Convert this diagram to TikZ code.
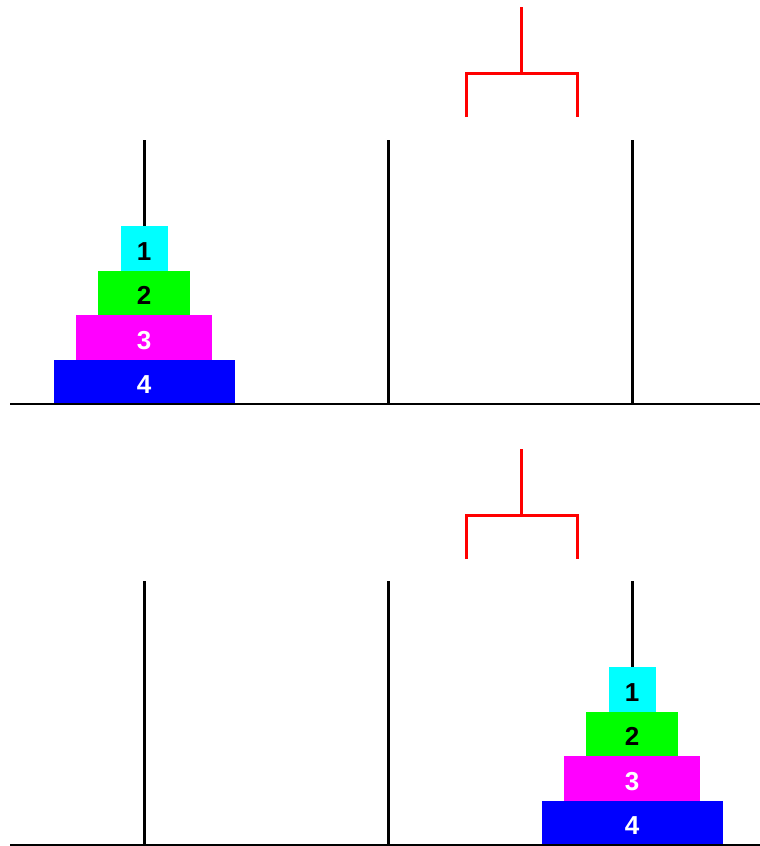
\documentclass[tikz,border=0pt]{standalone}
\usepackage{fontspec}
\setmainfont{Liberation Sans}
\usepackage{xcolor}
\usepackage{tikz}
\usetikzlibrary{positioning}
\definecolor{diskcyan}{RGB}{0,255,255}
\definecolor{diskgreen}{RGB}{0,255,0}
\definecolor{diskmagenta}{RGB}{255,0,255}
\definecolor{diskblue}{RGB}{0,0,255}
\definecolor{clawred}{RGB}{255,0,0}

\begin{document}
\begin{tikzpicture}[x=1pt, y=-1pt,
        disk/.style={rectangle, inner sep=0pt, outer sep=0pt, minimum height=44.5pt, anchor=south,
            text height=24pt, text depth=0pt, font=\fontsize{26}{30}\selectfont\bfseries},
        peg/.style={line width=3pt},
        base/.style={line width=2pt},
        claw/.style={clawred, line width=3pt}]

        \useasboundingbox (0,0) rectangle (760,846);

        % Panel superior: todos los discos en la primera varilla
        \coordinate (pegA) at (144,404);
        \coordinate (pegB) at (388,404);
        \coordinate (pegC) at (632,404);
        \draw[peg] (pegA) -- ++(0,-264);
        \draw[peg] (pegB) -- ++(0,-264);
        \draw[peg] (pegC) -- ++(0,-264);

        \node[disk, fill=diskblue, text=white, minimum width=181pt] (topd4) at (pegA) {4};
        \node[disk, fill=diskmagenta, text=white, minimum width=136pt, above=0pt of topd4] (topd3) {3};
        \node[disk, fill=diskgreen, minimum width=92pt, above=0pt of topd3] (topd2) {2};
        \node[disk, fill=diskcyan, minimum width=47pt, above=0pt of topd2] (topd1) {1};

        \coordinate (baseL) at (10,404);
        \coordinate (baseR) at (760,404);
        \draw[base] (baseL) -- (baseR);

        % Pinza roja
        \coordinate (clawTop) at (521,7);
        \coordinate (clawMid) at (521,73);
        \draw[claw] (clawTop) -- (clawMid);
        \draw[claw] (466,117) -- (466,73) -- (577,73) -- (577,117);

        % Panel inferior: todos los discos en la tercera varilla
        \coordinate (pegA2) at (144,845);
        \coordinate (pegB2) at (388,845);
        \coordinate (pegC2) at (632,845);
        \draw[peg] (pegA2) -- ++(0,-264);
        \draw[peg] (pegB2) -- ++(0,-264);
        \draw[peg] (pegC2) -- ++(0,-264);

        \node[disk, fill=diskblue, text=white, minimum width=181pt] (botd4) at (pegC2) {4};
        \node[disk, fill=diskmagenta, text=white, minimum width=136pt, above=0pt of botd4] (botd3) {3};
        \node[disk, fill=diskgreen, minimum width=92pt, above=0pt of botd3] (botd2) {2};
        \node[disk, fill=diskcyan, minimum width=47pt, above=0pt of botd2] (botd1) {1};

        \coordinate (baseL2) at (10,845);
        \coordinate (baseR2) at (760,845);
        \draw[base] (baseL2) -- (baseR2);

        % Pinza roja
        \coordinate (clawTop2) at (521,449);
        \coordinate (clawMid2) at (521,515);
        \draw[claw] (clawTop2) -- (clawMid2);
        \draw[claw] (466,559) -- (466,515) -- (577,515) -- (577,559);

    \end{tikzpicture}
\end{document}
